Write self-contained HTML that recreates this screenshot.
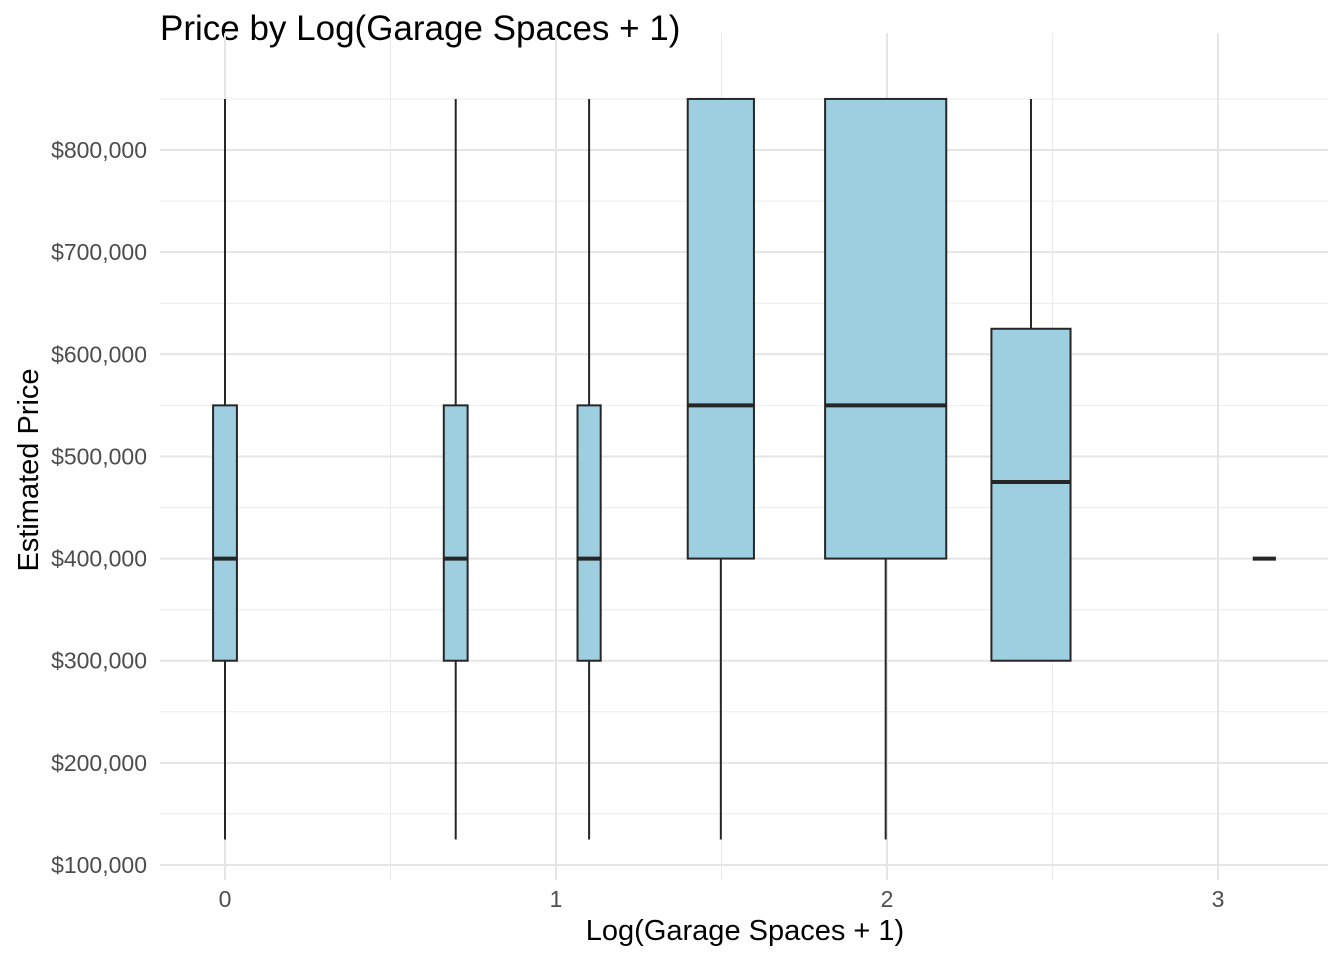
<!DOCTYPE html>
<html><head><meta charset="utf-8"><style>
body{margin:0;background:#fff}
svg{display:block;font-family:"Liberation Sans",Arial,sans-serif}
</style></head><body>
<svg id="chart" width="1344" height="960">
<text x="160" y="40" font-size="35" fill="#000">Price by Log(Garage Spaces + 1)</text>
<g id="grid"></g>
<g id="boxes"></g>
<g id="axes"></g>
<text x="745" y="940" font-size="29" text-anchor="middle" fill="#000">Log(Garage Spaces + 1)</text>
<text transform="translate(38,470) rotate(-90)" font-size="29" text-anchor="middle" fill="#000">Estimated Price</text>
</svg>
<script>
const positions=[0,0.697,1.1,1.498,1.996,2.435,3.14];
const lowWhisker=[125000,125000,125000,125000,125000,300000,400000];
const q1=[300000,300000,300000,400000,400000,300000,400000];
const medians=[400000,400000,400000,550000,550000,475000,400000];
const q3=[550000,550000,550000,850000,850000,625000,400000];
const highWhisker=[850000,850000,850000,850000,850000,850000,400000];
const boxWidths=[0.072,0.072,0.07,0.2,0.366,0.239,0.07];
const yTicks=[100000,200000,300000,400000,500000,600000,700000,800000];
const xTicks=[0,1,2,3];
const NS="http://www.w3.org/2000/svg";
const L=160,R=1328,T=33,B=880;
const xs=v=>225+v*331;
const ys=v=>865-(v-100000)/100000*102.14;
function mk(tag,attrs,parent){const e=document.createElementNS(NS,tag);for(const k in attrs)e.setAttribute(k,attrs[k]);document.getElementById(parent).appendChild(e);return e;}
for(let v=150000;v<=900000;v+=100000){const l=mk('line',{x1:L,x2:R,y1:ys(v),y2:ys(v),stroke:'#ebebeb','stroke-width':1},'grid');

}
for(let v=0.5;v<3.3;v+=1){const l=mk('line',{x1:xs(v),x2:xs(v),y1:T,y2:B,stroke:'#ebebeb','stroke-width':1},'grid');

}
yTicks.forEach(v=>{const l=mk('line',{x1:L,x2:R,y1:ys(v),y2:ys(v),stroke:'#e5e5e5','stroke-width':2},'grid');


const t=mk('text',{x:147,y:ys(v)+8,'font-size':23,'text-anchor':'end',fill:'#4d4d4d'},'axes');
t.textContent='$'+v.toLocaleString('en-US');

});
xTicks.forEach(v=>{const l=mk('line',{x1:xs(v),x2:xs(v),y1:T,y2:B,stroke:'#e5e5e5','stroke-width':2},'grid');


const t=mk('text',{x:xs(v),y:907,'font-size':23,'text-anchor':'middle',fill:'#4d4d4d'},'axes');
t.textContent=v;

});
positions.forEach((p,i)=>{const cx=xs(p),hw=boxWidths[i]*331/2;
const w1=mk('line',{x1:cx,x2:cx,y1:ys(q3[i]),y2:ys(highWhisker[i]),stroke:'#262626','stroke-width':2},'boxes');


const w2=mk('line',{x1:cx,x2:cx,y1:ys(q1[i]),y2:ys(lowWhisker[i]),stroke:'#262626','stroke-width':2},'boxes');


const r=mk('rect',{x:cx-hw,y:ys(q3[i]),width:2*hw,height:ys(q1[i])-ys(q3[i]),fill:'#9ecfe0',stroke:'#262626','stroke-width':2},'boxes');


const m=mk('line',{x1:cx-hw,x2:cx+hw,y1:ys(medians[i]),y2:ys(medians[i]),stroke:'#262626','stroke-width':4},'boxes');

});
</script>
</body></html>
